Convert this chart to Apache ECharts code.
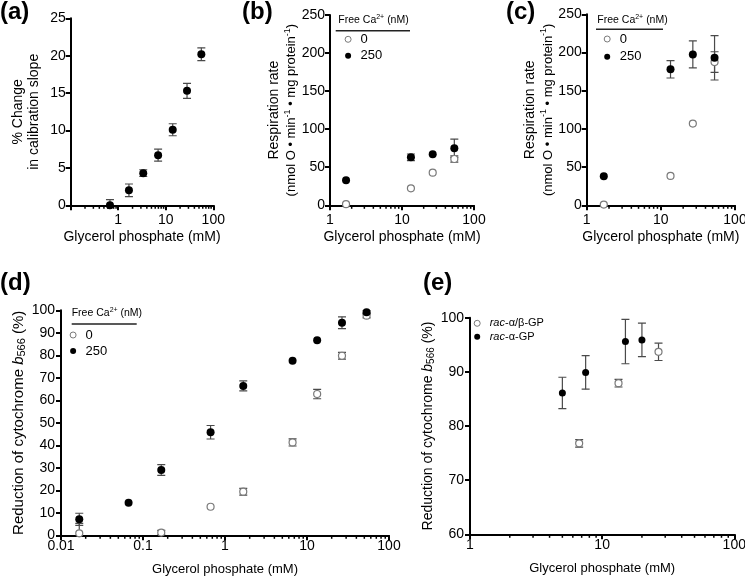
<!DOCTYPE html>
<html><head><meta charset="utf-8">
<script src="https://cdn.jsdelivr.net/npm/echarts@6/dist/echarts.min.js"></script>
<style>html,body{margin:0;padding:0;background:#fff}#c{width:745px;height:576px}</style>
</head><body><div id="c"></div>
<script>
// ---- data ----
const aX = [0.67, 1.68, 3.36, 6.9, 14, 28, 56];
const aY = [0, 2.0, 4.3, 6.7, 10.1, 15.3, 20.2];
const aErr = [0.75, 0.85, 0.45, 0.8, 0.8, 1.0, 0.85];

const bX = [1.67, 13.3, 26.7, 53.3];
const b0 = [1.5, 22.3, 42.8, 60.8];
const b0Err = [0, 0, 0, 4];
const b250 = [32.8, 63, 67, 75];
const b250Err = [0, 4.4, 0, 12];

const cX = [1.7, 13.5, 27, 53];
const c0 = [1, 38.5, 107, 187.5];
const c0Err = [0, 0, 0, 13.5];
const c250 = [38, 178, 197.5, 193];
const c250Err = [0, 11.4, 17.7, 29];

const dX250 = [0.0167, 0.0667, 0.167, 0.667, 1.67, 6.67, 13.3, 26.7, 53.3];
const d250 = [7.1, 14.5, 29, 45.8, 66.4, 77.6, 86.7, 94.5, 99.1];
const d250Err = [2.7, 0, 2.4, 3, 2.2, 0, 0, 2.6, 0.8];
const dX0 = [0.0167, 0.167, 0.667, 1.67, 6.67, 13.3, 26.7, 53.3];
const d0 = [0.9, 1.2, 12.7, 19.4, 41.3, 62.8, 79.8, 97.6];
const d0Err = [4.4, 1, 0, 1.5, 1.6, 2.1, 1.5, 1];

const eX250 = [5, 7.5, 15, 20];
const e250 = [86.1, 89.9, 95.6, 95.9];
const e250Err = [2.9, 3.1, 4.1, 3.1];
const eX0 = [6.7, 13.3, 26.7];
const e0 = [76.8, 87.9, 93.7];
const e0Err = [0.7, 0.7, 1.6];

// tick labels
const xLabelsA = [1, 10, 100];
const xLabelsBC = [1, 10, 100];
const xLabelsD = [0.01, 0.1, 1, 10, 100];
const xLabelsE = [1, 10, 100];
const minorA = [0.2,0.3,0.4,0.5,0.6,0.7,0.8,0.9,2,3,4,5,6,7,8,9,20,30,40,50,60,70,80,90];
const minorBCE = [2,3,4,5,6,7,8,9,20,30,40,50,60,70,80,90];
const minorD = [0.02,0.03,0.04,0.05,0.06,0.07,0.08,0.09,0.2,0.3,0.4,0.5,0.6,0.7,0.8,0.9,2,3,4,5,6,7,8,9,20,30,40,50,60,70,80,90];

// ---- styling ----
const FONT = '"Liberation Sans", Arial, Helvetica, sans-serif';
const BLACK = '#000';
const filled = {color: '#000', opacity: 1};
const open = {color: '#fff', borderColor: '#7a7a7a', borderWidth: 1.2, opacity: 1};

const grids = [
  {left: 70.7, top: 18.3, width: 142.6, height: 187},
  {left: 330, top: 15, width: 144, height: 190.3},
  {left: 586.7, top: 14.3, width: 148.3, height: 191},
  {left: 61, top: 310.3, width: 328, height: 225},
  {left: 470, top: 317.7, width: 264.3, height: 216.6}
].map(g => Object.assign({containLabel: false, outerBoundsMode: 'none'}, g));

const xCfg = [
  {min: 0.1, max: 100, labels: xLabelsA, minor: minorA, margin: 8, gap: 25, fs: 14},
  {min: 1, max: 100, labels: xLabelsBC, minor: minorBCE, margin: 8, gap: 25, fs: 14},
  {min: 1, max: 100, labels: xLabelsBC, minor: minorBCE, margin: 8, gap: 25, fs: 14},
  {min: 0.01, max: 100, labels: xLabelsD, minor: minorD, margin: 4, gap: 28, fs: 13},
  {min: 1, max: 100, labels: xLabelsE, minor: minorBCE, margin: 4, gap: 28, fs: 13}
];

const mainX = xCfg.map((c, i) => ({
  type: 'log', logBase: 10, gridIndex: i, min: c.min, max: c.max, position: 'bottom',
  axisLine: {show: true, lineStyle: {color: BLACK, width: 2}},
  axisTick: {show: true, length: 5, lineStyle: {color: BLACK, width: 2}},
  axisLabel: {margin: c.margin, fontSize: 14, color: BLACK, fontFamily: FONT,
    formatter: v => c.labels.some(l => Math.abs(l - v) < l * 1e-6) ? String(v) : ''},
  splitLine: {show: false},
  name: 'Glycerol phosphate (mM)', nameLocation: 'middle', nameGap: c.gap,
  nameTextStyle: {fontSize: c.fs, color: BLACK, fontFamily: FONT}
}));

const supRich = {
  a: {fontSize: 14, lineHeight: 18, fontFamily: FONT, color: BLACK},
  b: {fontSize: 13, lineHeight: 17, fontFamily: FONT, color: BLACK},
  sup: {fontSize: 9, lineHeight: 9, verticalAlign: 'top', fontFamily: FONT, color: BLACK}
};
const respName = '{a|Respiration rate}\n{b|(nmol O • min}{sup|-1}{b| • mg protein}{sup|-1}{b|)}';
const cytoRich = (fs) => ({
  n: {fontSize: fs, lineHeight: 18, fontFamily: FONT, color: BLACK},
  i: {fontSize: fs, lineHeight: 18, fontStyle: 'italic', fontFamily: FONT, color: BLACK},
  sub: {fontSize: fs - 4, lineHeight: 10, verticalAlign: 'bottom', fontFamily: FONT, color: BLACK}
});
const cytoName = '{n|Reduction of cytochrome }{i|b}{sub|566}{n| (%)}';

const yCfg = [
  {min: 0, max: 25, interval: 5, name: '{a|% Change}\n{a|in calibration slope}',
    rich: {a: {fontSize: 14, lineHeight: 16, fontFamily: FONT, color: BLACK}}, gap: 29, margin: 5},
  {min: 0, max: 250, interval: 50, name: respName, rich: supRich, gap: 29, margin: 5},
  {min: 0, max: 250, interval: 50, name: respName, rich: supRich, gap: 27, margin: 5},
  {min: 0, max: 100, interval: 10, name: cytoName, rich: cytoRich(15), gap: 32, margin: 6},
  {min: 60, max: 100, interval: 10, name: cytoName, rich: cytoRich(14), gap: 26, margin: 6}
];
const yAxes = yCfg.map((c, i) => ({
  type: 'value', gridIndex: i, min: c.min, max: c.max, interval: c.interval,
  axisLine: {show: true, lineStyle: {color: BLACK, width: 2}},
  axisTick: {show: true, length: 5, lineStyle: {color: BLACK, width: 2}},
  axisLabel: {margin: c.margin, fontSize: 14, color: BLACK, fontFamily: FONT},
  splitLine: {show: false},
  name: c.name, nameLocation: 'middle', nameGap: c.gap, nameRotate: 90,
  nameTextStyle: {fontFamily: FONT, color: BLACK, rich: c.rich}
}));

function pts(xs, ys) { return xs.map((x, i) => [x, ys[i]]); }
function errs(xs, ys, es) {
  return xs.map((x, i) => [x, ys[i] - es[i], ys[i] + es[i], es[i]]).filter(d => d[3] > 0);
}
function errSeries(gi, data) {
  return {
    type: 'custom', xAxisIndex: gi, yAxisIndex: gi, data: data, z: 1, clip: true, silent: true,
    encode: {x: 0, y: [1, 2]},
    renderItem: function (params, api) {
      const x = api.value(0);
      const p1 = api.coord([x, api.value(1)]);
      const p2 = api.coord([x, api.value(2)]);
      const w = 4;
      const st = {stroke: '#4a4a4a', lineWidth: 1.2};
      return {type: 'group', children: [
        {type: 'line', shape: {x1: p1[0], y1: p1[1], x2: p2[0], y2: p2[1]}, style: st},
        {type: 'line', shape: {x1: p1[0] - w, y1: p1[1], x2: p1[0] + w, y2: p1[1]}, style: st},
        {type: 'line', shape: {x1: p2[0] - w, y1: p2[1], x2: p2[0] + w, y2: p2[1]}, style: st}
      ]};
    }
  };
}
// minor log ticks, placed through the axis scale
function minorTickSeries(gi, vals, yMin) {
  return {
    type: 'custom', xAxisIndex: gi, yAxisIndex: gi, data: vals.map(v => [v, yMin]),
    z: 5, clip: false, silent: true, encode: {x: 0, y: 1},
    renderItem: function (params, api) {
      const p = api.coord([api.value(0), api.value(1)]);
      return {type: 'line', shape: {x1: p[0], y1: p[1], x2: p[0], y2: p[1] + 3.5},
        style: {stroke: BLACK, lineWidth: 1.5}};
    }
  };
}
function scat(gi, name, data, style, size) {
  return {type: 'scatter', name: name, xAxisIndex: gi, yAxisIndex: gi, data: data,
    symbol: 'circle', symbolSize: size, itemStyle: style, z: 3, silent: true};
}

const series = [
  minorTickSeries(0, minorA, yCfg[0].min),
  minorTickSeries(1, minorBCE, yCfg[1].min),
  minorTickSeries(2, minorBCE, yCfg[2].min),
  minorTickSeries(3, minorD, yCfg[3].min),
  minorTickSeries(4, minorBCE, yCfg[4].min),

  errSeries(0, errs(aX, aY, aErr)),
  scat(0, 'a', pts(aX, aY), filled, 8),

  errSeries(1, errs(bX, b0, b0Err)),
  errSeries(1, errs(bX, b250, b250Err)),
  scat(1, '0', pts(bX, b0), open, 7),
  scat(1, '250', pts(bX, b250), filled, 8),

  errSeries(2, errs(cX, c0, c0Err)),
  errSeries(2, errs(cX, c250, c250Err)),
  scat(2, '0', pts(cX, c0), open, 7),
  scat(2, '250', pts(cX, c250), filled, 8),

  errSeries(3, errs(dX0, d0, d0Err)),
  errSeries(3, errs(dX250, d250, d250Err)),
  scat(3, '0', pts(dX0, d0), open, 7),
  scat(3, '250', pts(dX250, d250), filled, 8),

  errSeries(4, errs(eX0, e0, e0Err)),
  errSeries(4, errs(eX250, e250, e250Err)),
  scat(4, 'rac-α/β-GP', pts(eX0, e0), open, 7),
  scat(4, 'rac-α-GP', pts(eX250, e250), filled, 7)
];

function caLegend(left, top, gap) {
  return {orient: 'vertical', left: left, top: top, padding: 0, itemWidth: 15, itemHeight: 6,
    itemGap: gap, icon: 'circle', selectedMode: false, data: ['0', '250'],
    itemStyle: {borderWidth: 1},
    textStyle: {fontSize: 13, lineHeight: 14, color: BLACK, fontFamily: FONT}};
}
const legends = [
  caLegend(344.6, 32.3, 2.4),
  caLegend(603.7, 32, 3.7),
  caLegend(69.6, 328, 2),
  {orient: 'vertical', left: 473.7, top: 317.3, padding: 0, itemWidth: 15, itemHeight: 6,
    itemGap: 1.4, icon: 'circle', selectedMode: false, data: ['rac-α/β-GP', 'rac-α-GP'],
    itemStyle: {borderWidth: 1},
    formatter: n => '{i|rac}{n|' + n.slice(3) + '}',
    textStyle: {fontSize: 11, lineHeight: 12, color: BLACK, fontFamily: FONT,
      rich: {i: {fontStyle: 'italic', fontSize: 11, fontFamily: FONT, color: BLACK},
             n: {fontSize: 11, fontFamily: FONT, color: BLACK}}}}
];

function panelLabel(txt, x, y) {
  return {type: 'text', left: x, top: y,
    style: {text: txt, font: 'bold 24px ' + FONT, fill: BLACK}};
}
function caTitle(x, y) {
  return {type: 'text', left: x, top: y,
    style: {text: '{n|Free Ca}{s|2+}{n| (nM)}', fill: BLACK,
      rich: {n: {fontSize: 10.5, lineHeight: 12, fontFamily: FONT, color: BLACK},
             s: {fontSize: 7, lineHeight: 7, verticalAlign: 'top', fontFamily: FONT, color: BLACK}}}};
}
function hline(x1, x2, y) {
  return {type: 'line', shape: {x1: x1, y1: y, x2: x2, y2: y}, style: {stroke: '#222', lineWidth: 1.5}};
}
const graphics = [
  panelLabel('(a)', 0, 0),
  panelLabel('(b)', 242, 0),
  panelLabel('(c)', 506, 0),
  panelLabel('(d)', 0, 271),
  panelLabel('(e)', 423, 271),
  caTitle(338.3, 14), hline(335.7, 410, 30.7),
  caTitle(597.3, 14), hline(596, 663, 29.3),
  caTitle(71.7, 307), hline(71.7, 136.7, 324)
];

const chart = echarts.init(document.getElementById('c'), null, {renderer: 'canvas'});
chart.setOption({
  animation: false,
  backgroundColor: '#fff',
  grid: grids,
  xAxis: mainX,
  yAxis: yAxes,
  legend: legends,
  graphic: graphics,
  series: series
});
</script></body></html>
